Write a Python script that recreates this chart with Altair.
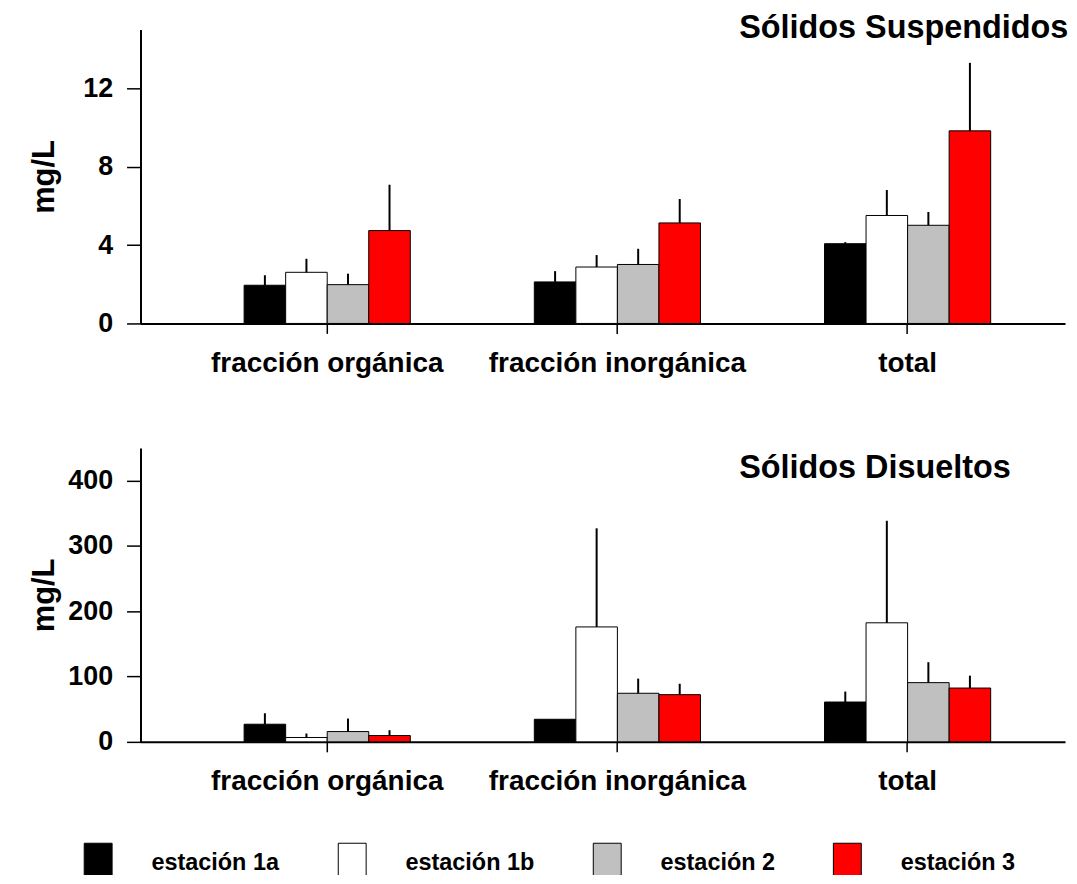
import altair as alt
import pandas as pd

FONT = "Liberation Sans"

categories = ["fracción orgánica", "fracción inorgánica", "total"]
stations = ["estación 1a", "estación 1b", "estación 2", "estación 3"]
station_colors = ["#000000", "#ffffff", "#c0c0c0", "#ff0000"]

# Sólidos Suspendidos (mg/L): mean per station and upper error (sd)
ss_organica = [1.95, 2.61, 1.98, 4.74]
ss_inorganica = [2.12, 2.88, 3.01, 5.13]
ss_total = [4.07, 5.51, 5.01, 9.83]
ss_organica_err = [0.51, 0.69, 0.56, 2.34]
ss_inorganica_err = [0.55, 0.61, 0.80, 1.22]
ss_total_err = [0.08, 1.30, 0.68, 3.47]
ss_ticks = [0, 4, 8, 12]
ss_max = 15

# Sólidos Disueltos (mg/L)
ds_organica = [27.0, 6.7, 15.8, 9.7]
ds_inorganica = [34.6, 176.0, 74.4, 72.3]
ds_total = [61.0, 182.3, 90.7, 82.4]
ds_organica_err = [16.8, 6.1, 19.9, 8.2]
ds_inorganica_err = [0.0, 151.0, 22.4, 16.7]
ds_total_err = [16.0, 156.2, 31.3, 19.0]
ds_ticks = [0, 100, 200, 300, 400]
ds_max = 450

W = 928
H = 295


def make_df(means, errs):
    rows = []
    for cat, m_list, e_list in zip(categories, means, errs):
        for st, m, e in zip(stations, m_list, e_list):
            rows.append({"cat": cat, "est": st, "mean": m, "upper": m + e})
    return pd.DataFrame(rows)


def panel(df, ymax, ticks, title, title_y, show_legend):
    x_enc = alt.X(
        "cat:N",
        sort=categories,
        scale=alt.Scale(paddingInner=0.4274, paddingOuter=0.3066, align=0.5823),
        axis=alt.Axis(
            title=None, labelAngle=0, labelFontSize=28, labelPadding=16,
            labelLimit=500, tickSize=10, ticks=True, domainWidth=2, tickWidth=1.5,
        ),
    )
    xo_enc = alt.XOffset(
        "est:N", sort=stations, scale=alt.Scale(paddingInner=0, paddingOuter=0)
    )
    y_scale = alt.Scale(domain=[0, ymax], nice=False)
    legend = None
    if show_legend:
        legend = alt.Legend(
            title=None, orient="none", legendX=-63, legendY=816,
            direction="horizontal", columns=4,
            symbolType="M-0.7,-1H0.7V1H-0.7Z", symbolSize=1600,
            symbolStrokeColor="black", symbolStrokeWidth=1, symbolOpacity=1,
            labelFontSize=23.5, labelFont=FONT, labelFontWeight="bold",
            labelOffset=33, columnPadding=52, labelColor="black",
        )
    bars = alt.Chart(df).mark_bar(stroke="black", strokeWidth=1, opacity=1).encode(
        x=x_enc,
        xOffset=xo_enc,
        y=alt.Y(
            "mean:Q", scale=y_scale,
            axis=alt.Axis(
                title="mg/L", values=ticks, labelFontSize=27, labelPadding=14,
                tickSize=14, tickWidth=1.5, domainWidth=2, grid=False,
                titleFontSize=31, titleX=-96, titleY=H / 2, titleAngle=-90,
                titleAlign="center", titleBaseline="middle",
            ),
        ),
        color=alt.Color(
            "est:N", sort=stations,
            scale=alt.Scale(domain=stations, range=station_colors),
            legend=legend,
        ),
    )
    err = alt.Chart(df).mark_rule(color="black", strokeWidth=2).encode(
        x=x_enc, xOffset=xo_enc, y=alt.Y("mean:Q", scale=y_scale), y2="upper:Q"
    )
    ttl = alt.Chart(pd.DataFrame({"t": [title]})).mark_text(
        align="left", baseline="alphabetic", fontSize=32.5, fontWeight="bold",
        font=FONT, color="black",
    ).encode(text="t:N", x=alt.value(601), y=alt.value(title_y))
    return alt.layer(bars, err, ttl).properties(width=W, height=H)


top = panel(
    make_df([ss_organica, ss_inorganica, ss_total],
            [ss_organica_err, ss_inorganica_err, ss_total_err]),
    ss_max, ss_ticks, "Sólidos Suspendidos", 8, True,
)
bottom = panel(
    make_df([ds_organica, ds_inorganica, ds_total],
            [ds_organica_err, ds_inorganica_err, ds_total_err]),
    ds_max, ds_ticks, "Sólidos Disueltos", 30, False,
)

chart = (
    alt.vconcat(top, bottom, spacing=71)
    .properties(padding={"left": 21, "top": 2, "right": 0, "bottom": -12})
    .configure_view(stroke=None)
    .configure_axis(
        labelFont=FONT, titleFont=FONT, labelFontWeight="bold",
        titleFontWeight="bold", labelColor="black", titleColor="black",
        domainColor="black", tickColor="black",
    )
)

chart.save("out.html", embed_options={"renderer": "svg", "actions": False})
